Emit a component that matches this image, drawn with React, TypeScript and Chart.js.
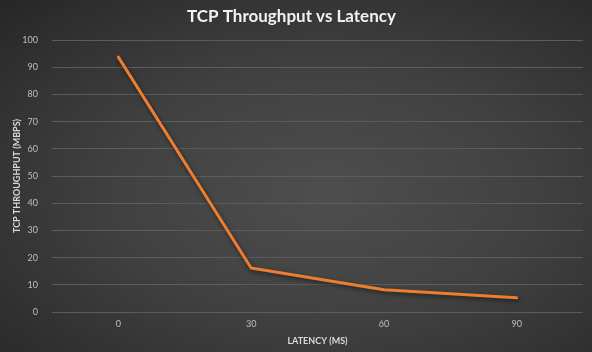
import React, { useEffect, useRef } from "react";
import { Chart, registerables } from "chart.js";

Chart.register(...registerables);

const latencyLabels = ["0", "30", "60", "90"];
const throughputValues = [93.7, 16.2, 8.2, 5.2];
const chartTitle = "TCP Throughput vs Latency";
const xAxisTitle = "LATENCY (MS)";
const yAxisTitle = "TCP THROUGHPUT (MBPS)";

const shadowPlugin = {
  id: "lineShadow",
  beforeDatasetsDraw(chart: any) {
    const ctx = chart.ctx;
    ctx.save();
    ctx.shadowColor = "rgba(0,0,0,0.55)";
    ctx.shadowBlur = 4;
    ctx.shadowOffsetX = 1;
    ctx.shadowOffsetY = 2;
  },
  afterDatasetsDraw(chart: any) {
    chart.ctx.restore();
  },
};

export default function App() {
  const ref = useRef<HTMLCanvasElement | null>(null);
  useEffect(() => {
    if (!ref.current) return;
    const font = "Lato, 'Open Sans', sans-serif";
    const chart = new Chart(ref.current, {
      type: "line",
      data: {
        labels: latencyLabels,
        datasets: [
          {
            data: throughputValues,
            borderColor: "#ED7D31",
            borderWidth: 3,
            pointRadius: 0,
            tension: 0,
            fill: false,
            borderCapStyle: "round",
            borderJoinStyle: "round",
          },
        ],
      },
      options: {
        animation: false,
        responsive: false,
        maintainAspectRatio: false,
        layout: { padding: { left: 0, right: 9, top: 0, bottom: 6 } },
        plugins: {
          legend: { display: false },
          tooltip: { enabled: false },
          title: {
            display: true,
            text: chartTitle,
            color: "#f2f2f2",
            font: { family: font, size: 17, weight: "bold" },
            padding: { top: 6, bottom: 13.6 },
          },
        },
        scales: {
          x: {
            offset: true,
            grid: { display: false, drawTicks: false },
            border: { display: false },
            ticks: { color: "#bfbfbf", font: { family: font, size: 9 }, padding: 7 },
            title: {
              display: true,
              text: xAxisTitle,
              color: "#d9d9d9",
              font: { family: font, size: 9, weight: "bold" },
              padding: { top: 0, bottom: 0 },
            },
            afterFit: (s: any) => {
              s.height = 34;
            },
          },
          y: {
            min: 0,
            max: 100,
            grid: { color: "#5c5c5c", lineWidth: 1, drawTicks: false },
            border: { display: false },
            ticks: {
              stepSize: 10,
              color: "#bfbfbf",
              font: { family: font, size: 9 },
              padding: 14,
            },
            title: {
              display: true,
              text: yAxisTitle,
              color: "#d9d9d9",
              font: { family: font, size: 9, weight: "bold" },
              padding: { top: 12, bottom: 0 },
            },
            afterFit: (s: any) => {
              s.width = 52;
            },
          },
        },
      },
      plugins: [shadowPlugin],
    } as any);
    return () => chart.destroy();
  }, []);
  return (
    <div
      style={{
        position: "absolute",
        left: 0,
        top: 0,
        width: 592,
        height: 352,
        background:
          "radial-gradient(ellipse at 55% 55%, #4e4e4e 0%, #414141 45%, #2e2e2e 85%, #262626 100%)",
      }}
    >
      <canvas ref={ref} width={592} height={352} />
    </div>
  );
}
